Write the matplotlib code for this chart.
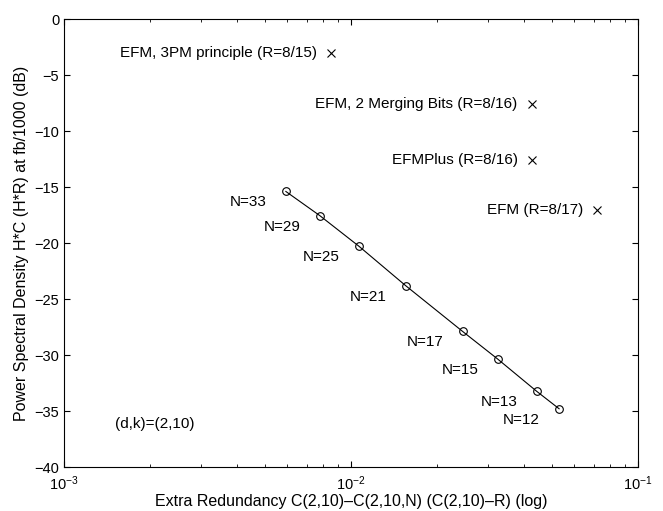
import matplotlib.pyplot as plt
from matplotlib.ticker import LogLocator, NullFormatter

plt.rcParams["font.family"] = ["Liberation Sans", "DejaVu Sans"]

# (d,k)=(2,10) codes, block length N
n_labels = ["N=33", "N=29", "N=25", "N=21", "N=17", "N=15", "N=13", "N=12"]
redundancy = [0.00593, 0.00778, 0.01067, 0.01549, 0.0245, 0.0324, 0.0444, 0.0531]
psd_db = [-15.4, -17.55, -20.3, -23.8, -27.9, -30.35, -33.25, -34.8]

# reference EFM-type codes
ref_labels = ["EFM, 3PM principle (R=8/15)", "EFM, 2 Merging Bits (R=8/16)",
              "EFMPlus (R=8/16)", "EFM (R=8/17)"]
ref_redundancy = [0.00849, 0.0426, 0.0426, 0.0720]
ref_psd_db = [-3.0, -7.55, -12.55, -17.07]

fig = plt.figure(figsize=(6.63, 5.11), dpi=100)
ax = fig.add_axes([64 / 663, 1 - 467 / 511, 574 / 663, 448 / 511])

ax.semilogx(redundancy, psd_db, "-o", color="black", lw=0.8, ms=5.5,
            mfc="none", mew=0.8)
for lab, x, y in zip(n_labels, redundancy, psd_db):
    ax.annotate(lab, (x, y), xytext=(-19, -11), textcoords="offset pixels",
                ha="right", va="center", fontsize=11)

ax.plot(ref_redundancy, ref_psd_db, "x", color="black", ms=5.5, mew=0.8,
        ls="none")
for lab, x, y in zip(ref_labels, ref_redundancy, ref_psd_db):
    ax.annotate(lab, (x, y), xytext=(-14, 0), textcoords="offset pixels",
                ha="right", va="center", fontsize=11)

ax.text(0.0015, -36.2, "(d,k)=(2,10)", ha="left", va="center", fontsize=11)

ax.set_xlim(1e-3, 1e-1)
ax.set_ylim(-40, 0)
ax.set_yticks(range(-40, 1, 5))
ax.xaxis.set_major_locator(LogLocator(base=10))
ax.xaxis.set_minor_locator(LogLocator(base=10, subs=range(2, 10)))
ax.xaxis.set_minor_formatter(NullFormatter())
ax.tick_params(which="both", direction="in", top=True, right=True,
               labelsize=10.5)
ax.tick_params(which="major", length=4)
ax.tick_params(which="minor", length=2)
ax.tick_params(axis="x", which="major", pad=5)

ax.set_xlabel("Extra Redundancy C(2,10)\u2013C(2,10,N) (C(2,10)\u2013R) (log)",
              fontsize=11.5, va="center")
ax.xaxis.set_label_coords(0.5, -34 / 448)
ax.set_ylabel("Power Spectral Density H*C (H*R) at fb/1000 (dB)",
              fontsize=11.5, labelpad=4)

fig.savefig("out.png", dpi=100, facecolor="white")
